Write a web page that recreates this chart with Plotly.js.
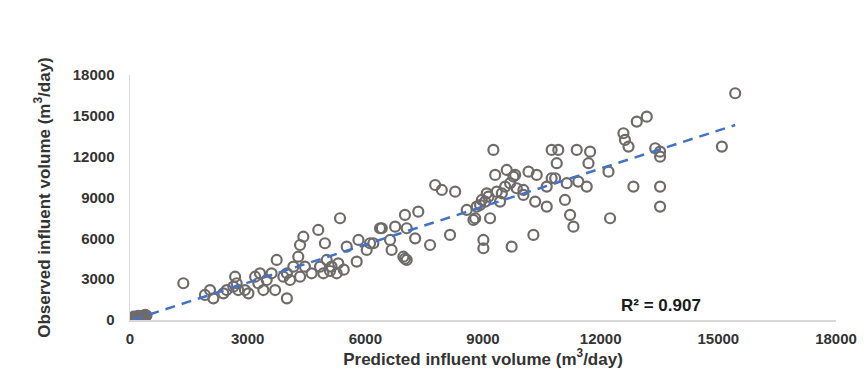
<!DOCTYPE html>
<html>
<head>
<meta charset="utf-8">
<script src="https://cdn.plot.ly/plotly-3.0.1.min.js"></script>
<style>html,body{margin:0;padding:0;background:#fff;}#chart{width:866px;height:382px;}</style>
</head>
<body>
<div id="chart"></div>
<script>
// Predicted influent volume (m3/day)
const predicted = [
  80,120,160,200,230,260,300,330,360,390,180,280,140,240,320,100,210,350,270,420,
  1360,1910,2040,2125,2380,2465,2680,2720,2760,2635,2930,3020,3190,3315,3400,3270,3485,3610,3740,3700,4000,3910,4000,4080,4165,4290,4335,4420,4335,4460,4630,4800,4970,4845,4930,5015,5140,5270,5355,5310,5525,5780,5825,6035,6205,6375,5450,5100,6120,
  6420,6630,6670,6760,7010,7055,6970,7055,7010,7270,7350,7650,7780,7950,8290,8160,8585,8800,8925,9055,9180,9010,9010,
  9265,9310,9350,9480,9605,9565,9690,9820,9860,9730,10030,10160,10285,10330,10370,10625,10625,10750,10880,10920,10750,
  11090,11135,11220,11305,11390,11430,11645,11690,11730,12200,12240,12580,12620,12710,12835,12920,13175,13390,13515,13515,13515,13515,15090,15430,
  9140,9775,9095,8970,9435,10030,10840,8755,8840
];
// Observed influent volume (m3/day)
const observed = [
  60,100,130,170,120,220,260,300,330,370,40,180,220,280,160,250,300,200,60,330,
  2700,1840,2200,1590,1960,2200,3180,2700,2200,2450,2200,1960,3180,3430,2200,2700,2940,3430,4410,2200,1590,3180,3430,2940,3920,4650,5510,6120,3180,3920,3430,6615,5640,3920,3430,4410,3920,3430,7475,4165,5390,4290,5880,5145,5640,6740,3700,3600,5640,
  6740,5880,5145,6860,7720,6740,4650,4410,4500,6000,7960,5510,9920,9555,9430,6250,8085,7475,8450,8700,7475,5880,5270,
  12495,10660,9430,9310,11025,9800,10050,10660,9680,5390,9190,10900,6250,8700,10660,8330,9800,12495,11520,12495,10415,
  8820,10050,7720,6860,12495,10170,9800,11520,12370,10900,7475,13720,13230,12740,9800,14575,14940,12620,12370,12000,9800,8330,12740,16660,
  9060,10540,9310,8820,8700,9555,10415,7350,8330
];
const tickVals = [0,3000,6000,9000,12000,15000,18000];
const tickText = ['0','3000','6000','9000','12000','15000','18000'];
const r2Label = 'R² = 0.907';

// least-squares linear trendline from the data
const n = predicted.length;
let sx=0, sy=0, sxx=0, sxy=0;
for (let i=0;i<n;i++){ sx+=predicted[i]; sy+=observed[i]; sxx+=predicted[i]*predicted[i]; sxy+=predicted[i]*observed[i]; }
const slope = (n*sxy - sx*sy)/(n*sxx - sx*sx);
const intercept = (sy - slope*sx)/n;
const xmin = Math.min(...predicted), xmax = Math.max(...predicted);
const trendX = [xmin, xmax];
const trendY = trendX.map(v => intercept + slope*v);

const tickFont = {family:'Liberation Sans, Arial, sans-serif', size:15, color:'#333333', weight:'bold'};
const titleFont = {family:'Liberation Sans, Arial, sans-serif', size:17, color:'#333333', weight:'bold'};

const data = [
  {x:predicted, y:observed, type:'scatter', mode:'markers',
   marker:{symbol:'circle-open', size:10, color:'#706b6b', line:{width:2.2}}, hoverinfo:'x+y'},
  {x:trendX, y:trendY, type:'scatter', mode:'lines',
   line:{color:'#4472C4', width:2.5, dash:'10px,7px'}, hoverinfo:'skip'}
];
const layout = {
  width:866, height:382,
  margin:{l:130, r:30, t:75, b:62},
  paper_bgcolor:'#ffffff', plot_bgcolor:'#ffffff',
  showlegend:false,
  xaxis:{range:[0,18000], tickvals:tickVals, ticktext:tickText, showgrid:false, zeroline:false,
         showline:true, linecolor:'#d9d9d9', linewidth:1.5, ticks:'outside', ticklen:4, tickcolor:'rgba(0,0,0,0)',
         tickfont:tickFont,
         title:{text:'Predicted influent volume (m<sup>3</sup>/day)', font:titleFont, standoff:4}},
  yaxis:{range:[0,18000], tickvals:tickVals, ticktext:tickText, showgrid:false, zeroline:false,
         showline:true, linecolor:'#d9d9d9', linewidth:1.5, ticks:'outside', ticklen:11, tickcolor:'rgba(0,0,0,0)',
         tickfont:tickFont,
         title:{text:'Observed influent volume (m<sup>3</sup>/day)', font:titleFont, standoff:18}},
  annotations:[{x:13540, y:1030, xref:'x', yref:'y', text:r2Label, showarrow:false,
                font:{family:'Liberation Sans, Arial, sans-serif', size:17, color:'#1a1a1a', weight:'bold'}}]
};
Plotly.newPlot('chart', data, layout, {displayModeBar:false, staticPlot:true});
</script>
</body>
</html>
